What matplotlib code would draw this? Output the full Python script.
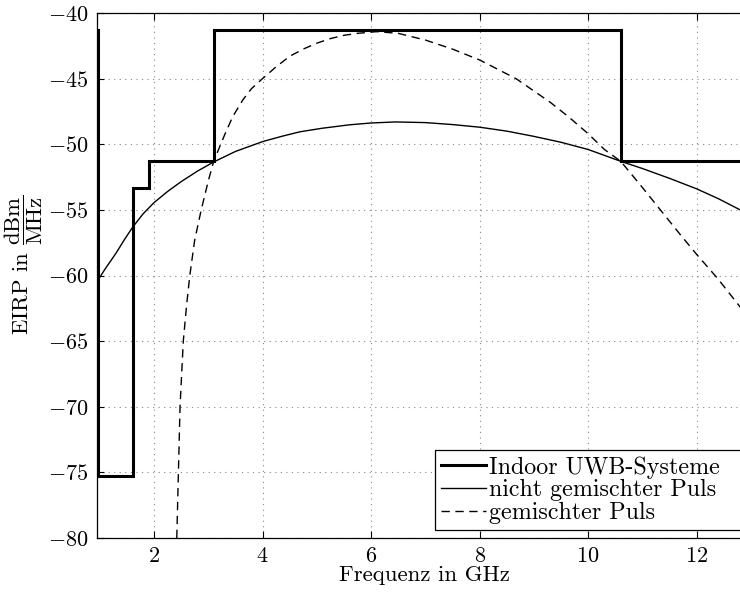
import matplotlib
matplotlib.use("Agg")
import matplotlib.pyplot as plt

plt.rcParams.update({
    "font.family": "serif",
    "font.serif": ["cmr10", "DejaVu Serif"],
    "mathtext.fontset": "cm",
    "axes.formatter.use_mathtext": True,
    "font.size": 16,
    "axes.unicode_minus": True,
})

# FCC indoor emission mask (step edges in GHz, level in dBm/MHz)
mask_f = [0.0, 0.96, 1.61, 1.9, 3.1, 10.6, 14.0]
mask_eirp = [-41.3, -75.3, -53.3, -51.3, -41.3, -51.3, -51.3]

# unmixed pulse spectrum
plain_f = [0.96, 1.1, 1.3, 1.45, 1.61, 1.8, 2.0, 2.25, 2.5, 2.8, 3.1, 3.5,
           4.0, 4.35, 4.69, 5.1, 5.6, 6.0, 6.45, 7.0, 7.5, 8.0, 8.5, 9.0,
           9.5, 10.0, 10.6, 11.0, 11.5, 12.0, 12.4, 12.8, 13.0]
plain_eirp = [-60.4, -59.5, -58.3, -57.3, -56.3, -55.3, -54.45, -53.6,
              -52.85, -52.05, -51.35, -50.55, -49.8, -49.4, -49.05, -48.78,
              -48.52, -48.38, -48.3, -48.35, -48.5, -48.7, -49.0, -49.4,
              -49.85, -50.4, -51.3, -51.85, -52.6, -53.4, -54.15, -55.0,
              -55.4]

# mixed pulse spectrum
mixed_f = [2.42, 2.45, 2.48, 2.54, 2.6, 2.66, 2.75, 2.87, 3.0, 3.1, 3.3,
           3.45, 3.64, 3.8, 4.0, 4.25, 4.5, 4.75, 5.0, 5.25, 5.5, 5.75, 6.1,
           6.5, 7.0, 7.5, 8.0, 8.67, 9.3, 9.65, 10.0, 10.3, 10.6, 11.0,
           11.33, 11.7, 12.0, 12.38, 12.8, 13.0]
mixed_eirp = [-80.0, -75.0, -70.0, -65.0, -62.3, -60.0, -57.3, -55.0, -52.8,
              -51.3, -49.3, -47.9, -46.6, -45.75, -45.0, -44.1, -43.3, -42.75,
              -42.3, -41.95, -41.7, -41.55, -41.42, -41.55, -42.06, -42.75,
              -43.58, -45.0, -46.8, -47.95, -49.2, -50.4, -51.3, -53.3, -55.0,
              -56.9, -58.4, -60.2, -62.4, -63.5]

fig = plt.figure(figsize=(7.4, 5.92), dpi=100)
ax = fig.add_axes([97 / 740, 54 / 592, 654 / 740, 525 / 592])

ax.plot(mask_f, mask_eirp, drawstyle="steps-post", color="black", lw=2.2,
        label="Indoor UWB-Systeme", solid_joinstyle="miter")
ax.plot(plain_f, plain_eirp, color="black", lw=1.0,
        label="nicht gemischter Puls")
ax.plot(mixed_f, mixed_eirp, color="black", lw=1.0, dashes=(6, 4),
        label="gemischter Puls")

ax.set_xlim(0.95, 13.0)
ax.set_ylim(-80, -40)
ax.set_xticks([2, 4, 6, 8, 10, 12])
ax.set_yticks(range(-80, -39, 5))
ax.grid(True, color="#888888", linestyle=(0, (1, 4)), linewidth=0.8)
ax.tick_params(direction="in", length=5, top=True, right=True, width=0.8,
               pad=6)
for sp in ax.spines.values():
    sp.set_linewidth(0.9)

ax.set_xlabel("Frequenz in GHz", fontsize=16.4, labelpad=0)
ax.set_ylabel(r"EIRP in $\dfrac{\mathrm{dBm}}{\mathrm{MHz}}$", fontsize=16.4)
ax.yaxis.set_label_coords(-52 / 654, 0.52)

# legend box stretched out past the right border like the original layout
leg = ax.legend(loc="lower left", bbox_to_anchor=(0.517, 0.0152, 0.471, 0.14),
                mode="expand", borderaxespad=0, fancybox=False,
                framealpha=1, edgecolor="black", handlelength=1.85,
                handletextpad=0.15, labelspacing=0.02, borderpad=0.25,
                fontsize=17.3)
leg.get_frame().set_linewidth(0.9)

fig.savefig("out.png", dpi=100)
